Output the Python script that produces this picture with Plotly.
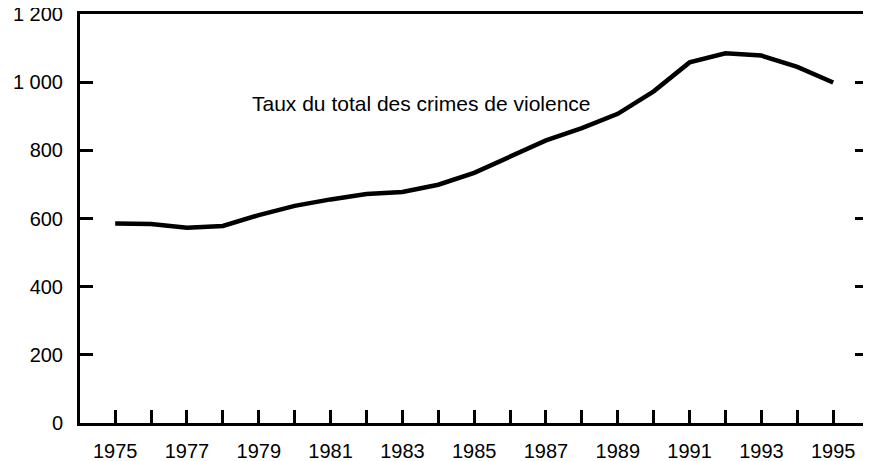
import plotly.graph_objects as go

years = list(range(1975, 1996))
rates = [585, 584, 573, 578, 610, 637, 656, 672, 678, 699, 734, 782, 829, 865, 907, 973, 1058, 1085, 1078, 1045, 999]

x_tick_vals = list(range(1975, 1996))
x_tick_text = [str(y) if (y - 1975) % 2 == 0 else "" for y in x_tick_vals]
y_tick_vals = [0, 200, 400, 600, 800, 1000, 1200]
y_tick_text = ["0", "200", "400", "600", "800", "1 000", "1 200"]

label_text = "Taux du total des crimes de violence"

FONT = "Liberation Sans, Arial, sans-serif"

fig = go.Figure()
fig.add_trace(go.Scatter(x=years, y=rates, mode="lines",
                         line=dict(color="black", width=4.5), showlegend=False,
                         hoverinfo="skip"))
# invisible companion trace so the right-hand tick axis is drawn
fig.add_trace(go.Scatter(x=years, y=rates, mode="lines", yaxis="y2",
                         line=dict(color="rgba(0,0,0,0)", width=0), showlegend=False,
                         hoverinfo="skip"))

fig.add_annotation(x=1983.54, y=936, text=label_text, showarrow=False,
                   font=dict(family=FONT, size=21, color="black"))

# the page body has an 8px default margin, so the figure is sized to fit the window
fig.update_layout(
    width=863, height=453,
    margin=dict(l=72, r=3, t=6, b=38),
    paper_bgcolor="white", plot_bgcolor="white",
    font=dict(family=FONT, size=20, color="black"),
    yaxis2=dict(overlaying="y", side="right", anchor="x", range=[0, 1200],
                tickvals=y_tick_vals, showticklabels=False, automargin=False,
                ticks="inside", ticklen=13, tickwidth=3, tickcolor="black",
                showline=False, showgrid=False, zeroline=False),
)
fig.update_xaxes(range=[1974.02, 1995.97], tickvals=x_tick_vals, ticktext=x_tick_text,
                 ticks="inside", ticklen=13, tickwidth=3, tickcolor="black",
                 showline=True, linewidth=3, linecolor="black", mirror=True,
                 showgrid=False, zeroline=False, ticklabelstandoff=8, automargin=False,
                 ticklabeloverflow="allow")
fig.update_yaxes(selector=dict(overlaying=None), range=[0, 1200], tickvals=y_tick_vals,
                 ticktext=y_tick_text, automargin=False, ticklabeloverflow="allow",
                 ticks="inside", ticklen=13, tickwidth=3, tickcolor="black",
                 showline=True, linewidth=3, linecolor="black", mirror=True,
                 showgrid=False, zeroline=False, ticklabelstandoff=10)

fig.write_html("out.html")
